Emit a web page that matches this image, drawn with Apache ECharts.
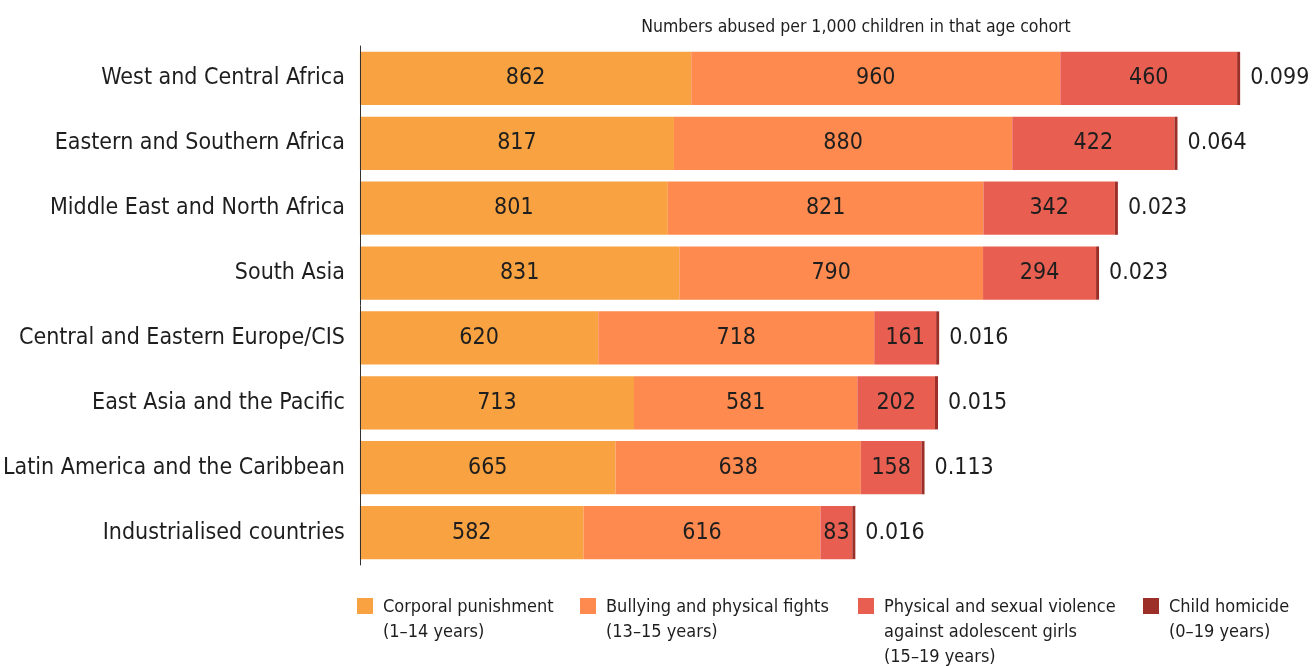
<!DOCTYPE html>
<html>
<head>
<meta charset="utf-8">
<script src="https://cdn.jsdelivr.net/npm/echarts@6/dist/echarts.min.js"></script>
<style>
html,body{margin:0;padding:0;background:#fff;}
#chart{width:1314px;height:666px;}
</style>
</head>
<body>
<div id="chart"></div>
<script>
var categories = [
  'West and Central Africa',
  'Eastern and Southern Africa',
  'Middle East and North Africa',
  'South Asia',
  'Central and Eastern Europe/CIS',
  'East Asia and the Pacific',
  'Latin America and the Caribbean',
  'Industrialised countries'
];
var corporal = [862, 817, 801, 831, 620, 713, 665, 582];
var bullying = [960, 880, 821, 790, 718, 581, 638, 616];
var violence = [460, 422, 342, 294, 161, 202, 158, 83];
var homicide = [0.099, 0.064, 0.023, 0.023, 0.016, 0.015, 0.113, 0.016];

var seriesNames = ['Corporal punishment', 'Bullying and physical fights', 'Physical and sexual violence', 'Child homicide'];
var legendLines = [
  ['Corporal punishment', '(1\u201314 years)'],
  ['Bullying and physical fights', '(13\u201315 years)'],
  ['Physical and sexual violence', 'against adolescent girls', '(15\u201319 years)'],
  ['Child homicide', '(0\u201319 years)']
];
var colors = ['#F8A241', '#FE8A4F', '#E85F51', '#9C2F27'];
var titleText = 'Numbers abused per 1,000 children in that age cohort';

var FONT = "'Liberation Sans Narrow', 'Arial Narrow', 'DejaVu Sans Condensed', sans-serif";
var chart = echarts.init(document.getElementById('chart'));

var valueArrays = [corporal, bullying, violence, homicide];
var series = valueArrays.map(function (arr, i) {
  var isLast = i === 3;
  return {
    name: seriesNames[i],
    type: 'bar',
    stack: 'total',
    data: arr,
    barCategoryGap: '18%',
    barMinHeight: isLast ? 3 : 0,
    itemStyle: { color: colors[i] },
    label: {
      show: true,
      position: isLast ? 'right' : 'inside',
      distance: 10,
      color: '#1e1e1e',
      fontFamily: FONT,
      fontSize: 23,
      formatter: function (p) { return isLast ? p.value.toFixed(3) : String(p.value); }
    },
    silent: true,
    animation: false
  };
});

var legendX = [357, 580, 858, 1143];
var graphics = [];
legendLines.forEach(function (lines, i) {
  graphics.push({
    type: 'rect', left: legendX[i], top: 598,
    shape: { width: 16, height: 16 },
    style: { fill: colors[i] }
  });
  graphics.push({
    type: 'text', left: legendX[i] + 26, top: 595,
    style: {
      text: lines.join('\n'), fill: '#1e1e1e', font: '18px ' + FONT, lineHeight: 25
    }
  });
});

chart.setOption({
  animation: false,
  title: {
    text: titleText,
    left: 851, top: 13, textAlign: 'center',
    textStyle: { fontFamily: FONT, fontSize: 17.5, fontWeight: 'normal', color: '#1e1e1e' }
  },
  grid: { left: 359, right: 31.5, top: 46, bottom: 101, containLabel: false },
  xAxis: {
    type: 'value', min: 0, max: 2400,
    show: false
  },
  yAxis: {
    type: 'category', data: categories, inverse: true, z: 5,
    axisLine: { show: true, lineStyle: { color: '#333', width: 1 } },
    axisTick: { show: false },
    axisLabel: { color: '#1e1e1e', fontFamily: FONT, fontSize: 23, margin: 15 }
  },
  graphic: graphics,
  series: series
});
</script>
</body>
</html>
